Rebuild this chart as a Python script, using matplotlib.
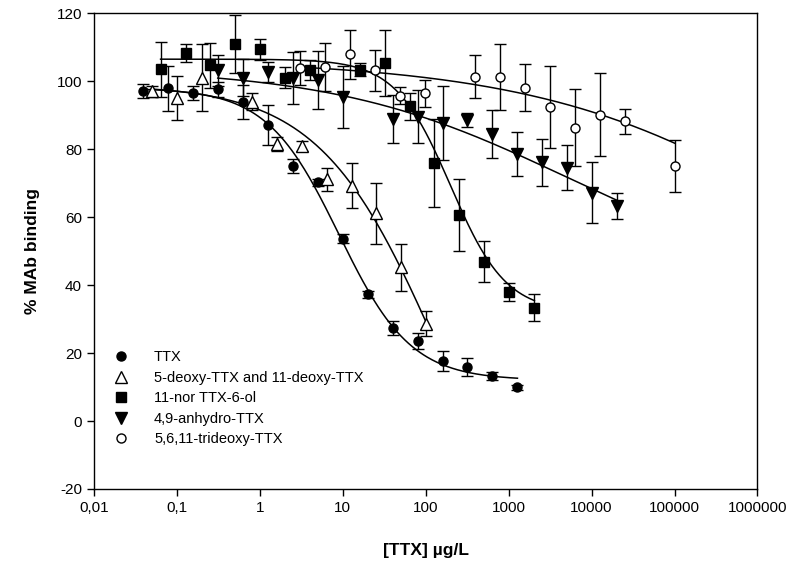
import matplotlib
matplotlib.use("Agg")
import matplotlib.pyplot as plt
from matplotlib.lines import Line2D
import numpy as np

plt.rcParams['font.family'] = ['Liberation Sans', 'DejaVu Sans']
plt.rcParams['axes.unicode_minus'] = False

# TTX
ttx_x = [0.039, 0.078, 0.156, 0.3125, 0.625, 1.25, 2.5, 5, 10, 20, 40, 80, 160, 320, 640, 1280]
ttx_y = [97.1, 97.9, 96.6, 97.6, 93.9, 87.1, 75.0, 70.3, 53.7, 37.3, 27.4, 23.5, 17.7, 16.0, 13.3, 9.9]
ttx_err = [2, 6.6, 2, 2.2, 4.9, 6, 2, 1, 1.4, 1, 2, 2.3, 3, 2.6, 1.2, 0.8]

# 5-deoxy-TTX and 11-deoxy-TTX
deoxy_x = [0.05, 0.1, 0.2, 0.8, 1.6, 3.2, 6.4, 12.8, 25.6, 51.2, 102.4]
deoxy_y = [97.0, 95.1, 101.0, 93.9, 81.5, 81.0, 71.1, 69.2, 61.1, 45.2, 28.7]
deoxy_err = [1.5, 6.4, 9.9, 2.5, 2, 1.5, 3.4, 6.6, 8.9, 6.9, 3.8]

# 11-nor TTX-6-ol
nor_x = [0.064, 0.128, 0.25, 0.5, 1.0, 2.0, 4.0, 16, 32, 64, 128, 256, 512, 1024, 2048]
nor_y = [103.5, 108.3, 104.7, 110.9, 109.4, 101.1, 103.4, 103.4, 105.4, 92.6, 76.0, 60.6, 46.9, 38.0, 33.4]
nor_err = [8, 2.7, 6.6, 8.5, 3, 3, 3, 2, 9.7, 4, 13, 10.6, 6, 2.7, 4]

# 4,9-anhydro-TTX
anh_x = [0.3125, 0.625, 1.25, 2.5, 5, 10, 40, 80, 160, 320, 640, 1280, 2560, 5120, 10240, 20480]
anh_y = [103.2, 101.1, 102.7, 101.0, 100.3, 95.4, 88.8, 89.5, 87.7, 88.5, 84.4, 78.7, 76.1, 74.6, 67.2, 63.3]
anh_err = [4.5, 5.5, 3, 7.7, 8.5, 9.2, 7.1, 7.8, 10.9, 2.1, 7, 6.5, 6.9, 6.7, 9, 3.9]

# 5,6,11-trideoxy-TTX
tri_x = [3.1, 6.2, 12.4, 24.8, 49.6, 99, 397, 794, 1588, 3175, 6350, 12700, 25400, 101600]
tri_y = [103.9, 104.2, 107.9, 103.2, 95.7, 96.4, 101.3, 101.2, 98.1, 92.4, 86.3, 90.2, 88.2, 75.1]
tri_err = [5, 7, 7.2, 6, 2.5, 4, 6.3, 9.7, 7, 12, 11.3, 12.3, 3.7, 7.6]

# fitted 4-parameter logistic curves: top, bottom, IC50, hill slope
ttx_fit = [98, 12, 9, 1.0]
deoxy_fit = [99, -60, 152, 0.6]
nor_fit = [106.5, 32, 200, 1.3]
anh_fit = [104, 40, 4800, 0.31]
tri_fit = [106.5, 0, 1.2e7, 0.25]

labels = ['TTX', '5-deoxy-TTX and 11-deoxy-TTX', '11-nor TTX-6-ol',
          '4,9-anhydro-TTX', '5,6,11-trideoxy-TTX']
xticks = [0.01, 0.1, 1, 10, 100, 1000, 10000, 100000, 1000000]
xticklabels = ['0,01', '0,1', '1', '10', '100', '1000', '10000', '100000', '1000000']
yticks = [-20, 0, 20, 40, 60, 80, 100, 120]


def logistic(x, p):
    top, bottom, ic50, h = p
    return bottom + (top - bottom) / (1 + (x / ic50) ** h)


fig = plt.figure(figsize=(7.94, 5.78), dpi=100)
ax = fig.add_axes([0.118, 0.154, 0.836, 0.823])

series = [
    (ttx_x, ttx_y, ttx_err, ttx_fit, 'o', 'black', 6.5),
    (deoxy_x, deoxy_y, deoxy_err, deoxy_fit, '^', 'white', 8),
    (nor_x, nor_y, nor_err, nor_fit, 's', 'black', 6.5),
    (anh_x, anh_y, anh_err, anh_fit, 'v', 'black', 8),
    (tri_x, tri_y, tri_err, tri_fit, 'o', 'white', 6.5),
]

handles = []
for (x, y, e, fit, m, fc, ms), lab in zip(series, labels):
    xs = np.logspace(np.log10(min(x)), np.log10(max(x)), 300)
    ax.plot(xs, logistic(xs, fit), color='black', lw=1.1, zorder=2)
    ax.errorbar(x, y, yerr=e, fmt=m, mfc=fc, mec='black', mew=1.0, ms=ms,
                ecolor='black', elinewidth=1.0, capsize=4.5, capthick=1.0, zorder=3)
    handles.append(Line2D([], [], ls='none', marker=m, mfc=fc, mec='black',
                          mew=1.0, ms=ms, label=lab))

ax.set_xscale('log')
ax.set_xlim(0.01, 1000000)
ax.set_ylim(-20, 120)
ax.set_xticks(xticks)
ax.set_xticklabels(xticklabels)
ax.xaxis.set_minor_locator(matplotlib.ticker.NullLocator())
ax.set_yticks(yticks)
ax.tick_params(direction='out', length=5, width=1, labelsize=11)
for s in ax.spines.values():
    s.set_linewidth(1.0)

ax.set_xlabel('[TTX] µg/L', fontsize=12.5, fontweight='bold', labelpad=20)
ax.set_ylabel('% MAb binding', fontsize=12.5, fontweight='bold', labelpad=12)

ax.legend(handles=handles, loc='upper left', bbox_to_anchor=(0.025, 0.292),
          frameon=False, fontsize=10.5, handlelength=1.5, handletextpad=1.5,
          labelspacing=0.45, borderpad=0, borderaxespad=0)

fig.savefig('out.png', dpi=100)
